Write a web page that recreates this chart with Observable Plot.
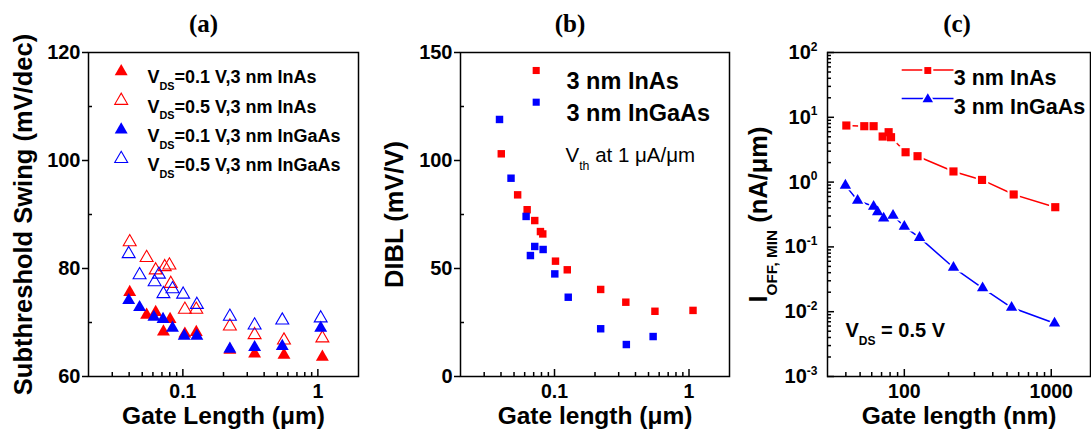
<!DOCTYPE html>
<html><head><meta charset="utf-8">
<script src="https://cdn.jsdelivr.net/npm/d3@7"></script>
<script src="https://cdn.jsdelivr.net/npm/@observablehq/plot@0.6"></script>
<style>
html,body{margin:0;padding:0;background:#fff;}
#root{position:relative;width:1091px;height:443px;overflow:hidden;background:#fff;}
</style></head><body><div id="root"></div>
<script>
const RED = "#ff0000", BLUE = "#0000ff";
const FONT = "'Liberation Sans', Arial, Helvetica, sans-serif";
const SERIF = "'Liberation Serif', 'Times New Roman', serif";

// ---------- Panel (a): subthreshold swing ----------
const aTitle = "(a)";
const aXLabel = "Gate Length (μm)";
const aYLabel = "Subthreshold Swing (mV/dec)";
const aLegend = ["V_{DS}=0.1 V,3 nm InAs", "V_{DS}=0.5 V,3 nm InAs", "V_{DS}=0.1 V,3 nm InGaAs", "V_{DS}=0.5 V,3 nm InGaAs"];
const aInAs01_L  = [0.0404, 0.0539, 0.0629, 0.0718, 0.0804, 0.1035, 0.1257, 0.223, 0.340, 0.561, 1.08];
const aInAs01_SS = [75.6, 71.4, 71.9, 68.3, 70.6, 67.9, 68.2, 64.9, 64.2, 64.0, 63.6];
const aInAs05_L  = [0.0404, 0.0539, 0.0629, 0.0734, 0.0795, 0.0814, 0.1035, 0.1257, 0.223, 0.340, 0.561, 1.08];
const aInAs05_SS = [84.9, 82.0, 79.7, 80.3, 80.6, 77.2, 72.4, 72.4, 69.3, 67.7, 66.7, 67.1];
const aInGaAs01_L  = [0.0397, 0.0478, 0.0610, 0.0713, 0.0838, 0.1023, 0.127, 0.223, 0.340, 0.545, 1.05];
const aInGaAs01_SS = [74.1, 72.8, 71.0, 70.6, 69.0, 67.5, 67.5, 65.1, 65.4, 65.6, 69.0];
const aInGaAs05_L  = [0.0397, 0.0478, 0.0618, 0.0665, 0.0718, 0.0838, 0.1005, 0.127, 0.223, 0.340, 0.545, 1.05];
const aInGaAs05_SS = [82.7, 78.8, 77.5, 78.9, 75.3, 76.2, 75.2, 73.3, 71.1, 69.5, 70.4, 70.8];
const aYMajor = [60, 80, 100, 120];
const aYMinor = [70, 90, 110];

// ---------- Panel (b): DIBL ----------
const bTitle = "(b)";
const bXLabel = "Gate length (μm)";
const bYLabel = "DIBL (mV/V)";
const bLegend = ["3 nm InAs", "3 nm InGaAs"];
const bNote = "V_{th} at 1 μA/μm";
const bInAs_L    = [0.0402, 0.0532, 0.0626, 0.0713, 0.0786, 0.0818, 0.1017, 0.1244, 0.2204, 0.339, 0.558, 1.071];
const bInAs_DIBL = [103.1, 84.1, 77.2, 72.2, 67.1, 66.0, 53.4, 49.4, 40.3, 34.4, 30.2, 30.6];
const bInGaAs_L    = [0.0390, 0.0475, 0.0615, 0.0662, 0.0713, 0.0823, 0.1005, 0.1265, 0.2204, 0.342, 0.541];
const bInGaAs_DIBL = [119.0, 91.8, 74.1, 56.0, 60.2, 58.8, 47.5, 36.7, 22.1, 14.8, 18.5];
const bYMajor = [0, 50, 100, 150];
const bYMinor = [25, 75, 125];

// ---------- Panel (c): I_OFF,MIN ----------
const cTitle = "(c)";
const cXLabel = "Gate length (nm)";
const cYLabel = "I_{OFF, MIN} (nA/μm)";
const cLegend = ["3 nm InAs", "3 nm InGaAs"];
const cNote = "V_{DS} = 0.5 V";
const cInAs_L = [40.3, 53.4, 61.8, 71.2, 78.2, 81.2, 102, 123, 216, 338, 555, 1065];
const cInAs_I = [7.47, 7.29, 7.29, 5.05, 5.89, 4.93, 2.89, 2.51, 1.46, 1.08, 0.644, 0.41];
const cInGaAs_L = [39.7, 48.1, 61.8, 65.8, 72.3, 83.8, 100, 127, 216, 341, 537, 1053];
const cInGaAs_I = [0.89, 0.52, 0.42, 0.345, 0.277, 0.305, 0.206, 0.139, 0.048, 0.0232, 0.0116, 0.00665];
const cYMajor = [1e-3, 1e-2, 1e-1, 1, 10, 100];
const cYMinor = cYMajor.slice(0, -1).flatMap(d => [2,3,4,5,6,7,8,9].map(k => +(k * d).toPrecision(2)));

const umMajor = [0.1, 1];
const umMinor = [0.03,0.04,0.05,0.06,0.07,0.08,0.09,0.2,0.3,0.4,0.5,0.6,0.7,0.8,0.9];
const nmMajor = [100, 1000];
const nmMinor = [40,50,60,70,80,90,200,300,400,500,600,700,800,900];

const rows = (xs, ys) => xs.map((x, i) => ({x, y: ys[i]}));

function yAxes(major, minor, majorSize, minorSize, padding, fmt) {
  return [
    Plot.axisY(major, {anchor: "left", tickSize: majorSize, tickFormat: () => "", strokeWidth: 1.5, label: null}),
    Plot.axisY(minor, {anchor: "left", tickSize: minorSize, tickFormat: () => "", strokeWidth: 1.5, label: null}),
    Plot.axisY(major, {anchor: "left", tickSize: 0, tickPadding: padding, tickFormat: fmt, fontSize: 20, fontWeight: "bold", label: null})
  ];
}
function xAxes(major, minor, fmt) {
  return [
    Plot.axisX(major, {anchor: "bottom", tickSize: -7, tickFormat: () => "", strokeWidth: 1.5, label: null}),
    Plot.axisX(minor, {anchor: "bottom", tickSize: -4, tickFormat: () => "", strokeWidth: 1.5, label: null}),
    Plot.axisX(major, {anchor: "bottom", tickSize: 0, tickPadding: 8, tickFormat: fmt, fontSize: 19.5, fontWeight: "bold", label: null})
  ];
}
function titles(title, titleDx, xLabel, yLabel, yDx) {
  return [
    Plot.text([title], {frameAnchor: "top", dx: titleDx, dy: -38.7, text: d => d, textAnchor: "middle", fontFamily: SERIF, fontWeight: "bold", fontSize: 25}),
    Plot.text([xLabel], {frameAnchor: "bottom", dy: 47.5, text: d => d, textAnchor: "middle", fontWeight: "bold", fontSize: 24.5}),
    Plot.text([yLabel], {frameAnchor: "left", dx: yDx, rotate: -90, text: d => d, textAnchor: "middle", fontWeight: "bold", fontSize: 25.5})
  ];
}
const common = {height: 443, marginTop: 52, marginBottom: 67,
  style: {fontFamily: FONT, background: "transparent", overflow: "visible", color: "black"}};

// Panel (a)
const aLegendStyle = [
  {fill: RED, stroke: "none"}, {fill: "none", stroke: RED},
  {fill: BLUE, stroke: "none"}, {fill: "none", stroke: BLUE}
];
const plotA = Plot.plot({
  ...common, width: 370, marginLeft: 88, marginRight: 12,
  x: {type: "log", domain: [0.02, 2], axis: null},
  y: {domain: [60, 120], axis: null},
  marks: [
    ...yAxes(aYMajor, aYMinor, 6, -4, 8, d => String(d)),
    ...xAxes(umMajor, umMinor, d => String(d)),
    Plot.dot(rows(aInAs05_L, aInAs05_SS), {x: "x", y: "y", symbol: "triangle", r: 4.8, fill: "none", stroke: RED, strokeWidth: 1.1}),
    Plot.dot(rows(aInGaAs05_L, aInGaAs05_SS), {x: "x", y: "y", symbol: "triangle", r: 4.8, fill: "none", stroke: BLUE, strokeWidth: 1.1}),
    Plot.dot(rows(aInAs01_L, aInAs01_SS), {x: "x", y: "y", symbol: "triangle", r: 4.8, fill: RED}),
    Plot.dot(rows(aInGaAs01_L, aInGaAs01_SS), {x: "x", y: "y", symbol: "triangle", r: 4.8, fill: BLUE}),
    ...aLegend.flatMap((lab, i) => [
      Plot.dot([lab], {frameAnchor: "top-left", dx: 32.7, dy: 19 + 29.1 * i, symbol: "triangle", r: 4.8, ...aLegendStyle[i], strokeWidth: 1.1}),
      Plot.text([lab], {frameAnchor: "top-left", dx: 59, dy: 18.2 + 29.1 * i, text: d => d, textAnchor: "start", fontSize: 18, fontWeight: "bold"})
    ]),
    ...titles(aTitle, -20, aXLabel, aYLabel, -65),
    Plot.frame({stroke: "black", strokeWidth: 1.5})
  ]
});

// Panel (b)
const plotB = Plot.plot({
  ...common, width: 362, marginLeft: 90, marginRight: 3,
  x: {type: "log", domain: [0.02, 2], axis: null},
  y: {domain: [0, 150], axis: null},
  marks: [
    ...yAxes(bYMajor, bYMinor, 6, -4, 8, d => String(d)),
    ...xAxes(umMajor, umMinor, d => String(d)),
    Plot.dot(rows(bInAs_L, bInAs_DIBL), {x: "x", y: "y", symbol: "square", r: 4.2, fill: RED}),
    Plot.dot(rows(bInGaAs_L, bInGaAs_DIBL), {x: "x", y: "y", symbol: "square", r: 4.2, fill: BLUE}),
    ...bLegend.flatMap((lab, i) => [
      Plot.dot([lab], {frameAnchor: "top-left", dx: 75.7, dy: 18 + 31.7 * i, symbol: "square", r: 4, fill: i ? BLUE : RED}),
      Plot.text([lab], {frameAnchor: "top-left", dx: 106, dy: 20 + 31.7 * i, text: d => d, textAnchor: "start", fontSize: 23.5, fontWeight: "bold"})
    ]),
    Plot.text([bNote], {frameAnchor: "top-left", dx: 105, dy: 95, text: d => d, textAnchor: "start", fontSize: 20.5}),
    ...titles(bTitle, -25, bXLabel, bYLabel, -65.7),
    Plot.frame({stroke: "black", strokeWidth: 1.5})
  ]
});

// Panel (c)
const plotC = Plot.plot({
  ...common, width: 359, marginLeft: 95, marginRight: 1,
  x: {type: "log", domain: [30, 1850], axis: null},
  y: {type: "log", domain: [1e-3, 1e2], axis: null},
  marks: [
    ...yAxes(cYMajor, cYMinor, -7, -4, 10, d => `10^{${Math.round(Math.log10(d))}}`),
    ...xAxes(nmMajor, nmMinor, d => String(d)),
    Plot.line(rows(cInAs_L, cInAs_I), {x: "x", y: "y", stroke: RED, strokeWidth: 1.5}),
    Plot.line(rows(cInGaAs_L, cInGaAs_I), {x: "x", y: "y", stroke: BLUE, strokeWidth: 1.5}),
    Plot.dot(rows(cInAs_L, cInAs_I), {x: "x", y: "y", symbol: "square", r: 7, fill: "white"}),
    Plot.dot(rows(cInGaAs_L, cInGaAs_I), {x: "x", y: "y", symbol: "triangle", r: 6.3, fill: "white"}),
    Plot.dot(rows(cInAs_L, cInAs_I), {x: "x", y: "y", symbol: "square", r: 4.6, fill: RED}),
    Plot.dot(rows(cInGaAs_L, cInGaAs_I), {x: "x", y: "y", symbol: "triangle", r: 4.2, fill: BLUE}),
    ...cLegend.flatMap((lab, i) => [
      Plot.dot([lab], {frameAnchor: "top-left", dx: 100.3, dy: 18 + 28.8 * i, symbol: i ? "triangle" : "square", r: i ? 6 : 6.2, fill: "white"}),
      Plot.dot([lab], {frameAnchor: "top-left", dx: 100.3, dy: 18 + 28.8 * i, symbol: i ? "triangle" : "square", r: 3.9, fill: i ? BLUE : RED}),
      Plot.text([lab], {frameAnchor: "top-left", dx: 126.3, dy: 17.5 + 28.8 * i, text: d => d, textAnchor: "start", fontSize: 21.5, fontWeight: "bold"})
    ]),
    Plot.text([cNote], {frameAnchor: "bottom-left", dx: 18, dy: -39.3, text: d => d, textAnchor: "start", fontSize: 20, fontWeight: "bold"}),
    ...titles(cTitle, -2, cXLabel, cYLabel, -68.7),
    Plot.frame({stroke: "black", strokeWidth: 1.5})
  ]
});

// Sub/superscript helper: turns _{..} and ^{..} into tspans
function richify(svg) {
  svg.querySelectorAll("text").forEach(t => {
    const s = t.textContent;
    if (s === "") { t.remove(); return; }
    if (!/[_^]\{/.test(s)) return;
    const fs = parseFloat(getComputedStyle(t).fontSize) || 16;
    while (t.firstChild) t.removeChild(t.firstChild);
    const re = /([_^])\{([^}]*)\}/g;
    let last = 0, m, pending = 0;
    const add = (str, size, dy) => {
      const ts = document.createElementNS("http://www.w3.org/2000/svg", "tspan");
      ts.textContent = str;
      if (size) ts.setAttribute("font-size", size);
      if (dy) ts.setAttribute("dy", dy);
      t.appendChild(ts);
    };
    while ((m = re.exec(s))) {
      if (m.index > last) { add(s.slice(last, m.index), null, pending); pending = 0; }
      const shift = m[1] === "_" ? 0.38 * fs : -0.42 * fs;
      add(m[2], 0.6 * fs, pending + shift);
      pending = -shift;
      last = re.lastIndex;
    }
    if (last < s.length) add(s.slice(last), null, pending);
  });
}

const root = document.getElementById("root");
function place(svg, left) {
  svg.style.position = "absolute";
  svg.style.left = left + "px";
  svg.style.top = "0px";
  root.appendChild(svg);
  richify(svg);
}
place(plotA, 0);
place(plotB, 370);
place(plotC, 732);

// Legend line segments for panel (c), placed beneath the legend markers
const firstDot = plotC.querySelector('g[aria-label="dot"]');
[[RED, 70], [BLUE, 98.5]].forEach(([c, y]) => {
  const ln = document.createElementNS("http://www.w3.org/2000/svg", "line");
  ln.setAttribute("x1", 169.7); ln.setAttribute("x2", 221.5);
  ln.setAttribute("y1", y); ln.setAttribute("y2", y);
  ln.setAttribute("stroke", c); ln.setAttribute("stroke-width", 1.5);
  plotC.insertBefore(ln, firstDot);
});
</script>
</body></html>
